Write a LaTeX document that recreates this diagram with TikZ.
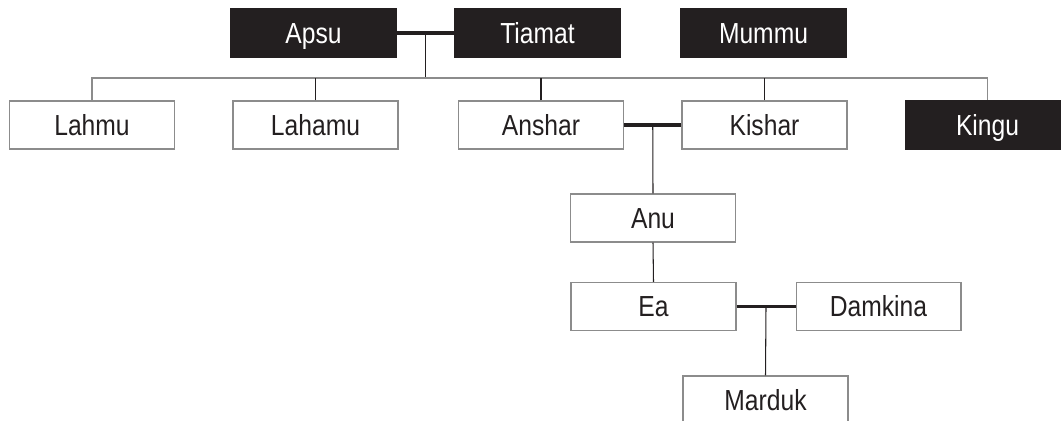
\documentclass[tikz,border=0pt]{standalone}
\usepackage{fontspec}
\setmainfont{Liberation Sans}[FakeStretch=0.85]
\usepackage{xcolor}
\usetikzlibrary{calc}
\definecolor{ink}{HTML}{231F20}
\definecolor{rulegray}{HTML}{8C8C8C}

\begin{document}
\begin{tikzpicture}[x=0.02cm, y=-0.02cm,
  god/.style={draw=rulegray, line width=0.6pt, fill=white, text=ink,
    minimum width=3.3cm, minimum height=0.96cm, inner sep=0pt,
    text height=11.7pt, text depth=0pt,
    font=\fontsize{16.5}{20}\selectfont},
  dark/.style={god, fill=ink, draw=ink, text=white},
  wed/.style={draw=ink, line width=1.8pt},
  kin/.style={draw=ink, line width=0.6pt}]
\useasboundingbox (0,0) rectangle (1061,420);
\clip (0,0) rectangle (1061,420);
% Primera generacion
\node[dark] (apsu) at (313.5,33) {Apsu};
\node[dark] (tiamat) at (537.5,33) {Tiamat};
\node[dark] (mummu) at (763.5,33) {Mummu};
% Hijos
\node[god] (lahmu) at (92,125) {Lahmu};
\node[god] (lahamu) at (315.5,125) {Lahamu};
\node[god] (anshar) at (541,125) {Anshar};
\node[god] (kishar) at (764.5,125) {Kishar};
\node[dark] (kingu) at (987.5,125) {Kingu};
% Descendencia
\node[god] (anu) at (653,218) {Anu};
\node[god] (ea) at (653.5,306.5) {Ea};
\node[god] (damkina) at (878.5,306.5) {Damkina};
\node[god] (marduk) at (765.5,400) {Marduk};
% Uniones
\coordinate (bar) at (0,78);
\draw[wed] (apsu.east) -- (tiamat.west);
\draw[wed] (anshar.east) -- (kishar.west);
\draw[wed] (ea.east) -- (damkina.west);
\coordinate (at) at ($(apsu.east)!0.5!(tiamat.west)$);
\coordinate (ak) at ($(anshar.east)!0.5!(kishar.west)$);
\coordinate (ed) at ($(ea.east)!0.5!(damkina.west)$);
% Lineas de descendencia
\draw[kin] (at) -- (at |- bar);
\draw[rulegray, line width=0.6pt] (lahmu.north) -- (lahmu.north |- bar) -- (kingu.north |- bar) -- (kingu.north);
\foreach \n in {lahamu,anshar,kishar}{
  \draw[kin] (\n.north) -- (\n.north |- bar);
}
\draw[kin] (ak) -- (anu.north);
\draw[kin] (anu.south) -- (ea.north);
\draw[kin] (ed) -- (marduk.north);
\end{tikzpicture}
\end{document}
